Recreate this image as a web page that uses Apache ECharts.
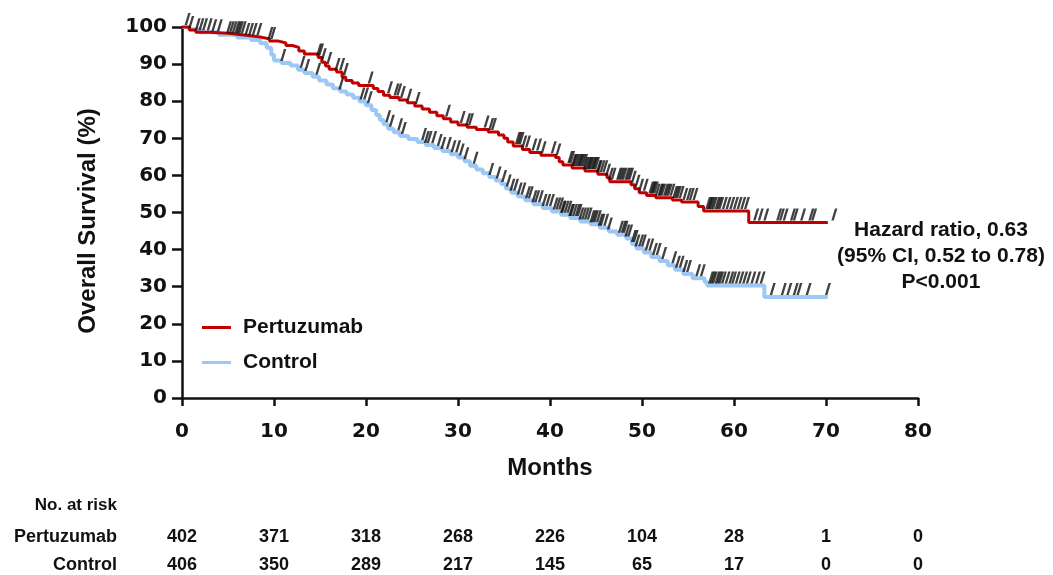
<!DOCTYPE html>
<html>
<head>
<meta charset="utf-8">
<script src="https://cdn.jsdelivr.net/npm/echarts@6/dist/echarts.min.js"></script>
<style>
  html, body { margin: 0; padding: 0; background: #fff; }
  #chart { width: 1053px; height: 575px; }
</style>
</head>
<body>
<div id="chart"></div>
<script>
// Kaplan-Meier overall survival, step points (months, % surviving)
const pertuzumabTimes = [0, 0.8, 1.5, 3, 5, 7, 8.5, 9.5, 10.5, 11.3, 12.0, 12.7, 13.3, 14.8, 15.2, 15.6, 16.0, 16.8, 17.4, 17.8, 18.5, 19.2, 20.8, 21.3, 21.9, 22.6, 23.6, 24.5, 25.3, 26.1, 26.9, 27.7, 28.4, 29.2, 30.0, 31.0, 32.0, 33.3, 34.4, 35.0, 35.4, 36.0, 37.0, 37.8, 39.0, 40.6, 41.0, 41.4, 42.4, 43.8, 45.2, 46.2, 46.5, 48.8, 49.2, 49.7, 50.5, 51.5, 53.3, 54.3, 56.1, 56.7, 61.6, 70.2];
const pertuzumabSurv  = [100, 99.2, 98.6, 98.3, 97.8, 97.3, 96.8, 96.2, 95.7, 95.0, 94.5, 93.5, 92.7, 91.8, 90.5, 89.5, 88.6, 87.9, 86.5, 85.6, 84.9, 84.2, 83.4, 82.6, 81.6, 81.0, 80.3, 79.6, 78.7, 77.9, 77.0, 76.1, 75.3, 74.4, 73.6, 73.0, 72.4, 71.7, 70.9, 70.0, 69.0, 67.9, 67.0, 66.2, 65.4, 64.8, 63.7, 62.8, 62.0, 61.2, 60.3, 59.4, 58.3, 57.5, 56.4, 55.3, 54.6, 54.0, 53.4, 52.8, 51.6, 50.4, 47.3, 47.3];

const controlTimes = [0, 0.8, 2, 4, 6, 7.5, 8.5, 9.2, 9.7, 10.0, 10.8, 11.8, 12.6, 13.3, 14.2, 14.9, 15.7, 16.4, 17.2, 17.9, 18.6, 19.3, 20.0, 20.6, 21.1, 21.5, 21.9, 22.4, 23.0, 23.7, 24.6, 25.6, 26.5, 27.4, 28.3, 29.2, 30.0, 30.7, 31.3, 32.0, 32.7, 33.4, 34.1, 34.7, 35.2, 35.8, 36.5, 37.3, 38.2, 39.2, 40.2, 41.2, 42.2, 43.3, 44.4, 45.4, 46.4, 47.3, 48.3, 48.9, 49.4, 50.2, 51.0, 51.9, 52.8, 53.6, 54.5, 55.5, 56.8, 57.1, 63.3, 70.2];
const controlSurv  = [100, 99.4, 98.6, 97.9, 97.2, 96.5, 95.6, 94.4, 92.5, 91.0, 90.3, 89.6, 88.5, 87.6, 86.6, 85.6, 84.5, 83.5, 82.6, 81.8, 80.9, 79.9, 78.9, 77.6, 76.3, 74.9, 73.8, 72.6, 71.6, 70.6, 69.8, 69.0, 68.2, 67.4, 66.6, 65.7, 64.8, 63.8, 62.6, 61.6, 60.6, 59.6, 58.6, 57.7, 56.5, 55.3, 54.3, 53.3, 52.2, 51.2, 50.3, 49.4, 48.5, 47.6, 46.8, 45.9, 44.9, 44.0, 43.0, 41.5, 40.3, 39.2, 38.0, 36.9, 35.8, 34.6, 33.4, 32.3, 31.3, 30.3, 27.2, 27.2];

// Censoring times (months)
const pertuzumabCensored = [0.5, 0.9, 1.6, 2.0, 2.4, 2.9, 3.4, 4.0, 5.0, 5.3, 5.6, 5.9, 6.1, 6.3, 6.6, 7.0, 7.4, 7.8, 8.3, 9.5, 9.8, 14.8, 15.0, 15.3, 15.9, 16.8, 17.3, 17.7, 20.4, 22.5, 23.2, 23.5, 23.9, 24.6, 25.5, 28.8, 30.4, 31.0, 31.3, 33.0, 33.5, 33.8, 36.4, 36.6, 36.8, 37.1, 37.5, 38.2, 38.7, 39.2, 40.3, 40.8, 42.1, 42.3, 42.5, 42.6, 42.8, 43.0, 43.2, 43.3, 43.5, 43.7, 43.8, 44.0, 44.2, 44.3, 44.5, 44.7, 44.8, 45.0, 45.2, 45.3, 45.6, 45.9, 46.2, 46.5, 46.8, 47.4, 47.6, 47.8, 48.0, 48.3, 48.5, 48.7, 49.0, 49.4, 49.8, 50.3, 50.9, 51.1, 51.2, 51.4, 51.6, 51.9, 52.0, 52.2, 52.5, 52.7, 52.9, 53.2, 53.5, 53.7, 53.9, 54.2, 54.6, 55.0, 55.3, 55.7, 57.1, 57.3, 57.4, 57.6, 57.8, 58.1, 58.3, 58.5, 58.9, 59.3, 59.7, 60.1, 60.5, 60.9, 61.3, 62.3, 62.8, 63.4, 64.8, 65.1, 65.5, 66.3, 66.6, 67.4, 68.3, 68.6, 70.8];
const controlCensored = [10.9, 13.0, 13.5, 14.7, 17.2, 19.5, 19.9, 20.3, 22.3, 22.7, 23.6, 24.0, 26.2, 26.5, 26.8, 27.3, 27.9, 28.3, 28.9, 29.4, 29.9, 30.3, 30.8, 31.8, 33.5, 34.3, 34.9, 35.4, 35.8, 36.2, 36.6, 37.0, 37.5, 37.8, 38.2, 38.5, 38.9, 39.3, 39.7, 40.1, 40.5, 40.8, 41.1, 41.3, 41.4, 41.7, 42.0, 42.2, 42.3, 42.6, 42.9, 43.1, 43.3, 43.6, 43.9, 44.2, 44.5, 44.7, 44.9, 45.2, 45.4, 45.6, 46.0, 46.4, 47.6, 47.9, 48.1, 48.3, 48.6, 49.0, 49.2, 49.4, 49.8, 50.1, 50.5, 50.9, 51.3, 51.7, 52.3, 53.4, 53.8, 54.2, 54.6, 55.0, 56.0, 56.5, 57.4, 57.6, 57.8, 58.1, 58.3, 58.5, 58.8, 59.2, 59.6, 59.9, 60.3, 60.7, 61.1, 61.5, 62.0, 62.5, 63.0, 64.1, 65.3, 65.9, 66.6, 67.0, 68.0, 70.1];

// Numbers at risk at each 10-month tick
const atRiskTicks = [0, 10, 20, 30, 40, 50, 60, 70, 80];
const pertuzumabAtRisk = [402, 371, 318, 268, 226, 104, 28, 1, 0];
const controlAtRisk = [406, 350, 289, 217, 145, 65, 17, 0, 0];

const seriesNames = ['Pertuzumab', 'Control'];
const statsLines = ['Hazard ratio, 0.63', '(95% CI, 0.52 to 0.78)', 'P<0.001'];

const RED = '#c00000';
const BLUE = '#9dc8f5';
const INK = '#111111';
const SANS = '"Liberation Sans", Arial, sans-serif';
const WIDE = '"DejaVu Sans", "Liberation Sans", sans-serif';

function zip(xs, ys) { return xs.map((x, i) => [x, ys[i]]); }
// survival level of a step curve at time t
function levelAt(times, surv, t) {
  let v = surv[0];
  for (let i = 0; i < times.length; i++) { if (times[i] <= t) v = surv[i]; else break; }
  return v;
}
function censorPoints(cens, times, surv) { return cens.map(t => [t, levelAt(times, surv, t)]); }

// slanted censor tick
const tickMark = 'path://M0,12 L2.4,12 L6,0 L3.6,0 Z';

function atRiskAxis(values, offset) {
  return {
    type: 'value', gridIndex: 0, position: 'bottom', offset: offset,
    min: 0, max: 80, interval: 10,
    axisLine: { show: false }, axisTick: { show: false }, splitLine: { show: false },
    axisLabel: {
      margin: 0, fontFamily: SANS, fontWeight: 'bold', fontSize: 18, color: INK,
      formatter: v => String(values[atRiskTicks.indexOf(Math.round(v))])
    }
  };
}

const chart = echarts.init(document.getElementById('chart'), null, { renderer: 'canvas' });
chart.setOption({
  animation: false,
  backgroundColor: '#ffffff',
  grid: { left: 182, right: 135, top: 27, bottom: 177 },
  legend: {
    data: seriesNames, orient: 'vertical', left: 197, top: 312, itemGap: 14,
    icon: 'rect', itemWidth: 29, itemHeight: 3,
    textStyle: { fontFamily: SANS, fontWeight: 'bold', fontSize: 21, color: INK, padding: [0, 0, 0, 7] }
  },
  xAxis: [
    {
      type: 'value', min: 0, max: 80, interval: 10,
      name: 'Months', nameLocation: 'middle', nameGap: 58,
      nameTextStyle: { fontFamily: SANS, fontWeight: 'bold', fontSize: 24, color: INK },
      axisLine: { lineStyle: { color: INK, width: 2.5 } },
      axisTick: { length: 8, lineStyle: { color: INK, width: 2.5 } },
      axisLabel: { margin: 24, fontFamily: WIDE, fontWeight: 'bold', fontSize: 20, color: INK },
      splitLine: { show: false }
    },
    atRiskAxis(pertuzumabAtRisk, 130),
    atRiskAxis(controlAtRisk, 158)
  ],
  yAxis: {
    type: 'value', min: 0, max: 100, interval: 10,
    axisLine: { show: true, lineStyle: { color: INK, width: 2.5 } },
    axisTick: { show: true, length: 10, lineStyle: { color: INK, width: 2.5 } },
    axisLabel: { margin: 15, fontFamily: WIDE, fontWeight: 'bold', fontSize: 20, color: INK },
    splitLine: { show: false }
  },
  series: [
    {
      name: 'Control', type: 'line', step: 'end', showSymbol: false, z: 2,
      data: zip(controlTimes, controlSurv),
      itemStyle: { color: BLUE }, lineStyle: { color: BLUE, width: 4 }
    },
    {
      name: 'Pertuzumab', type: 'line', step: 'end', showSymbol: false, z: 3,
      data: zip(pertuzumabTimes, pertuzumabSurv),
      itemStyle: { color: RED }, lineStyle: { color: RED, width: 3 }
    },
    {
      name: 'Pertuzumab censored', type: 'scatter', z: 4, silent: true,
      symbol: tickMark, symbolSize: [6, 12], symbolOffset: [1, -8],
      itemStyle: { color: INK },
      data: censorPoints(pertuzumabCensored, pertuzumabTimes, pertuzumabSurv)
    },
    {
      name: 'Control censored', type: 'scatter', z: 4, silent: true,
      symbol: tickMark, symbolSize: [6, 12], symbolOffset: [1, -8],
      itemStyle: { color: INK },
      data: censorPoints(controlCensored, controlTimes, controlSurv)
    }
  ],
  graphic: [
    {
      type: 'text', x: 88, y: 221, rotation: Math.PI / 2,
      style: { text: 'Overall Survival (%)', fontFamily: SANS, fontWeight: 'bold', fontSize: 24, fill: INK, align: 'center', verticalAlign: 'middle' }
    },
    {
      type: 'text', x: 941, y: 217,
      style: { text: statsLines.join('\n'), fontFamily: SANS, fontWeight: 'bold', fontSize: 21, lineHeight: 26, fill: INK, align: 'center', verticalAlign: 'top' }
    },
    {
      type: 'text', x: 117, y: 505,
      style: { text: 'No. at risk', fontFamily: SANS, fontWeight: 'bold', fontSize: 17, fill: INK, align: 'right', verticalAlign: 'middle' }
    },
    {
      type: 'text', x: 117, y: 537,
      style: { text: seriesNames[0], fontFamily: SANS, fontWeight: 'bold', fontSize: 18, fill: INK, align: 'right', verticalAlign: 'middle' }
    },
    {
      type: 'text', x: 117, y: 565,
      style: { text: seriesNames[1], fontFamily: SANS, fontWeight: 'bold', fontSize: 18, fill: INK, align: 'right', verticalAlign: 'middle' }
    }
  ]
});
</script>
</body>
</html>
